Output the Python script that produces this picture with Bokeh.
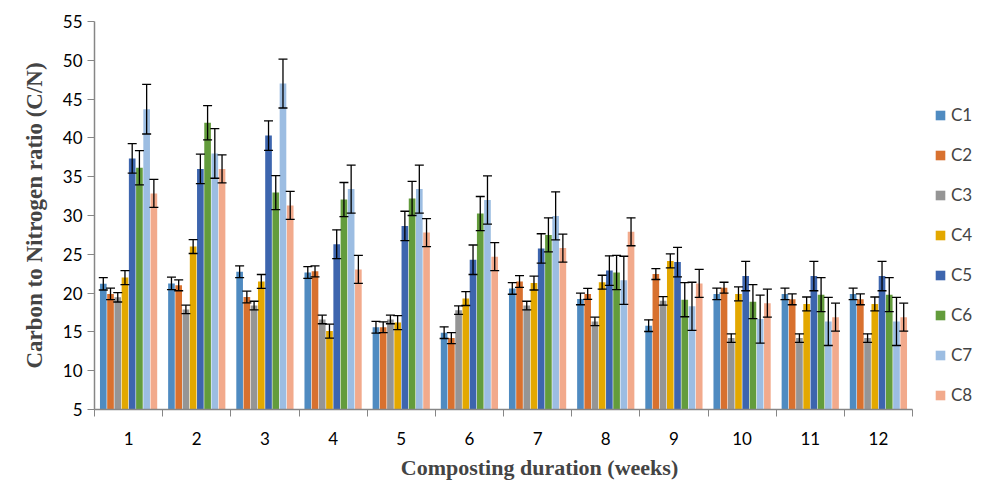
from bokeh.plotting import figure
from bokeh.models import ColumnDataSource, Whisker, TeeHead, FixedTicker, Legend, LegendItem, Range1d
from bokeh.embed import file_html
from bokeh.resources import INLINE

weeks = [1, 2, 3, 4, 5, 6, 7, 8, 9, 10, 11, 12]
series = ["C1", "C2", "C3", "C4", "C5", "C6", "C7", "C8"]

C1 = [21.2, 21.25, 22.75, 22.65, 15.6, 14.9, 20.6, 19.25, 15.8, 19.9, 19.9, 19.9]
C2 = [19.9, 21.0, 19.5, 22.8, 15.6, 14.2, 21.5, 19.9, 22.45, 20.7, 19.2, 19.2]
C3 = [19.45, 17.9, 18.4, 16.6, 16.6, 17.8, 18.4, 16.35, 19.0, 14.2, 14.2, 14.2]
C4 = [22.0, 26.0, 21.5, 15.1, 16.2, 19.3, 21.3, 21.4, 24.15, 19.9, 18.6, 18.6]
C5 = [37.35, 36.0, 40.3, 26.3, 28.65, 24.3, 25.75, 22.9, 24.0, 22.2, 22.2, 22.2]
C6 = [36.15, 41.95, 32.95, 32.05, 32.2, 30.25, 27.5, 22.65, 19.15, 18.9, 19.8, 19.8]
C7 = [43.7, 38.0, 47.0, 33.4, 33.4, 32.0, 29.95, 21.65, 18.3, 16.65, 16.35, 16.35]
C8 = [32.85, 36.0, 31.3, 23.05, 27.8, 24.7, 25.8, 27.9, 21.25, 18.7, 16.9, 16.9]

E1 = [0.8, 0.8, 0.75, 0.75, 0.75, 0.75, 0.75, 0.75, 0.75, 0.75, 0.75, 0.75]
E2 = [0.75, 0.7, 0.75, 0.7, 0.7, 0.7, 0.75, 0.7, 0.7, 0.7, 0.7, 0.7]
E3 = [0.6, 0.55, 0.55, 0.55, 0.55, 0.55, 0.55, 0.55, 0.55, 0.55, 0.55, 0.55]
E4 = [0.9, 0.9, 0.9, 0.9, 0.9, 0.9, 0.9, 0.9, 0.9, 0.9, 0.9, 0.9]
E5 = [1.9, 1.9, 1.9, 1.85, 1.9, 1.9, 1.9, 1.9, 1.9, 1.9, 1.9, 1.9]
E6 = [2.2, 2.2, 2.2, 2.2, 2.2, 2.2, 2.2, 2.2, 2.2, 2.2, 2.2, 2.2]
E7 = [3.2, 3.2, 3.15, 3.1, 3.1, 3.1, 3.1, 3.1, 3.1, 3.1, 3.1, 3.1]
E8 = [1.8, 1.8, 1.8, 1.8, 1.8, 1.8, 1.8, 1.8, 1.8, 1.8, 1.8, 1.8]

values = [C1, C2, C3, C4, C5, C6, C7, C8]
errors = [E1, E2, E3, E4, E5, E6, E7, E8]
colors = ["#4F8BC1", "#D8712F", "#959595", "#E3A800", "#3D65AE", "#639C3C", "#9CBDE2", "#F2AA8C"]

y_ticks = [5, 10, 15, 20, 25, 30, 35, 40, 45, 50, 55]

W, H = 984, 482
LEFT = 94
AXIS_PX = 818  # pixel length of the 12 categories
x_end = 0.5 + 12 * (W - LEFT) / AXIS_PX  # frame extends under the legend

p = figure(width=W, height=H, output_backend="svg", toolbar_location=None,
           x_range=Range1d(0.5, x_end), y_range=Range1d(5, 55),
           min_border_left=LEFT, min_border_right=0, min_border_top=21, min_border_bottom=72)
p.outline_line_color = None
p.xgrid.visible = False
p.ygrid.visible = False

pitch = 0.106
items = []
for i, (name, vals, errs, col) in enumerate(zip(series, values, errors, colors)):
    off = (i - 3.5) * pitch
    xs = [w + off for w in weeks]
    src = ColumnDataSource(dict(x=xs, top=vals,
                                upper=[v + e for v, e in zip(vals, errs)],
                                lower=[v - e for v, e in zip(vals, errs)]))
    p.vbar(x="x", top="top", bottom=5, width=pitch * 0.92, source=src,
           fill_color=col, line_color=None)
    wk = Whisker(base="x", upper="upper", lower="lower", source=src,
                 line_color="black", line_width=1.3, level="annotation",
                 upper_head=TeeHead(size=9, line_color="black", line_width=1.3),
                 lower_head=TeeHead(size=9, line_color="black", line_width=1.3))
    p.add_layout(wk)
    # hidden helper so that the legend shows a square swatch
    swatch = p.quad(left="x", right="x", top="top", bottom="top", source=src,
                    fill_color=col, line_color=None, visible=False)
    items.append(LegendItem(label=name, renderers=[swatch]))

# axes
p.xaxis.bounds = (0.5, 12.5)
p.xaxis.ticker = FixedTicker(ticks=weeks, minor_ticks=[w - 0.5 for w in weeks] + [12.5])
p.xaxis.major_tick_line_color = None
p.xaxis.major_tick_out = 0
p.xaxis.major_tick_in = 0
p.xaxis.minor_tick_out = 7
p.xaxis.minor_tick_in = 0
p.xaxis.minor_tick_line_color = "#868686"
p.xaxis.axis_line_color = "#868686"
p.xaxis.axis_line_width = 1.5
p.xaxis.major_label_standoff = 15
p.xaxis.major_label_text_font = "Lato"
p.xaxis.major_label_text_font_size = "17px"
p.xaxis.major_label_text_color = "black"
p.xaxis.axis_label = "Composting duration (weeks)"
p.xaxis.axis_label_text_font = "Liberation Serif"
p.xaxis.axis_label_text_font_style = "bold"
p.xaxis.axis_label_text_font_size = "22px"
p.xaxis.axis_label_standoff = 7

p.yaxis.ticker = FixedTicker(ticks=y_ticks)
p.yaxis.minor_tick_line_color = None
p.yaxis.major_tick_out = 7
p.yaxis.major_tick_in = 0
p.yaxis.major_tick_line_color = "#868686"
p.yaxis.axis_line_color = "#868686"
p.yaxis.axis_line_width = 1.5
p.yaxis.major_label_standoff = 5
p.yaxis.major_label_text_font = "Lato"
p.yaxis.major_label_text_font_size = "17px"
p.yaxis.major_label_text_color = "black"
p.yaxis.axis_label = "Carbon to Nitrogen ratio (C/N)"
p.yaxis.axis_label_text_font = "Liberation Serif"
p.yaxis.axis_label_text_font_style = "bold"
p.yaxis.axis_label_text_font_size = "23px"
p.yaxis.axis_label_standoff = 13

legend = Legend(items=items, location=(840, 4), padding=0, margin=0,
                border_line_color=None, background_fill_color=None, background_fill_alpha=0,
                inactive_fill_alpha=0,
                glyph_width=12, glyph_height=12, label_height=20, spacing=19,
                label_standoff=5, label_text_font="Lato", label_text_font_size="17px")
p.add_layout(legend, "center")

open("out.html", "w").write(file_html(p, INLINE))
